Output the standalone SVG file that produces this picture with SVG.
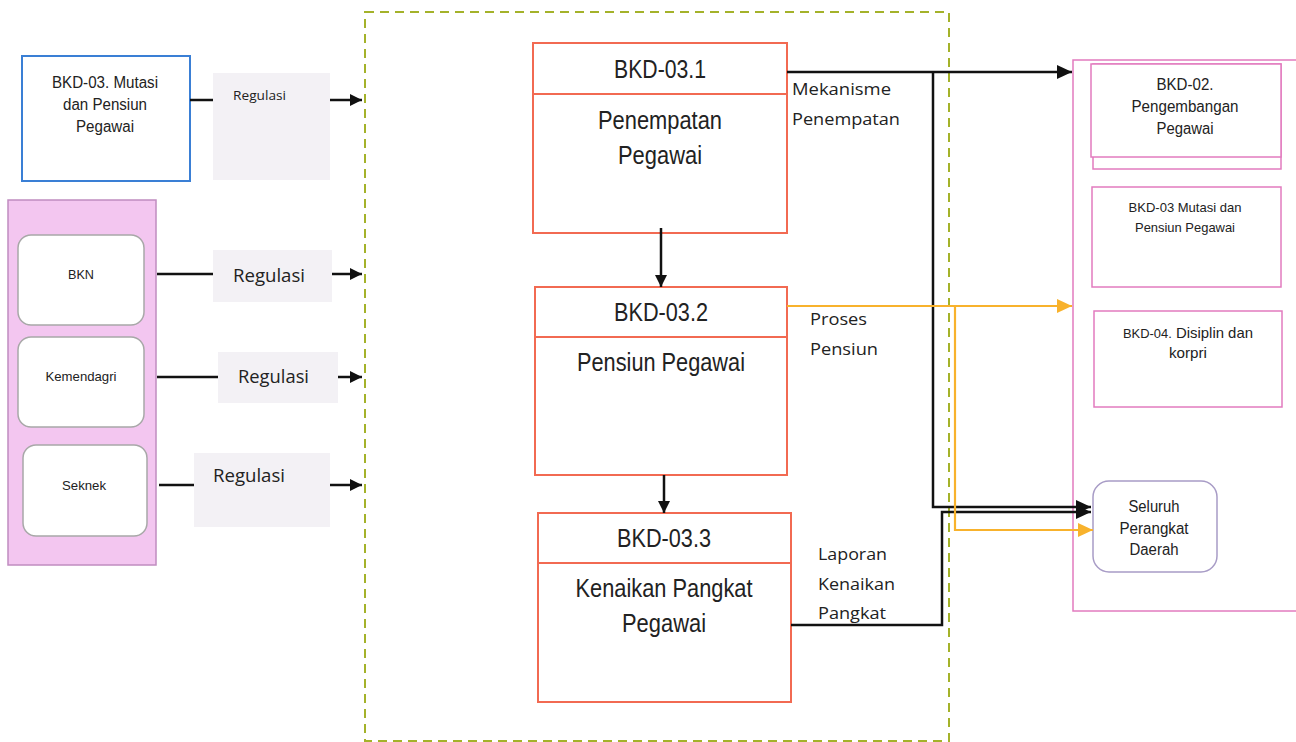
<svg xmlns="http://www.w3.org/2000/svg" width="1296" height="742" viewBox="0 0 1296 742">
<defs>
<style>
.n{font-family:"Liberation Sans",Arial,sans-serif;fill:#222;text-anchor:middle}
.c{font-family:"Open Sans","Liberation Sans",sans-serif;fill:#222}
.proc{fill:#fff;stroke:#f26a52;stroke-width:2}
.reg{fill:#f3f1f5}
.org{fill:#fff;stroke:#a8a8a8;stroke-width:1.5}
.pk{fill:#fff;stroke:#e27bbf;stroke-width:1.5}
.bl{fill:none;stroke:#111;stroke-width:2.5}
.or{fill:none;stroke:#f8b22c;stroke-width:2.2}
</style>
<marker id="ab" markerUnits="userSpaceOnUse" markerWidth="16" markerHeight="16" refX="15" refY="7" orient="auto"><path d="M0,0 L15,7 L0,14 z" fill="#111"/></marker>
<marker id="as" markerUnits="userSpaceOnUse" markerWidth="14" markerHeight="14" refX="12" refY="6" orient="auto"><path d="M0,0 L12,6 L0,12 z" fill="#111"/></marker>
<marker id="ao" markerUnits="userSpaceOnUse" markerWidth="16" markerHeight="16" refX="15" refY="7" orient="auto"><path d="M0,0 L15,7 L0,14 z" fill="#f8b22c"/></marker>
</defs>
<rect width="1296" height="742" fill="#fff"/>

<!-- containers -->
<rect id="main-boundary" x="365" y="12" width="584" height="729" fill="none" stroke="#a4b22a" stroke-width="2" stroke-dasharray="9,6"/>
<rect id="right-boundary" x="1073" y="60" width="240" height="551" fill="none" stroke="#e27bbf" stroke-width="1.5"/>

<!-- left inputs -->
<g id="bkd03-src">
<rect x="22" y="56" width="168" height="125" fill="#fff" stroke="#3a7fd5" stroke-width="2"/>
<text class="n" font-size="16"><tspan x="105" y="88" textLength="106" lengthAdjust="spacingAndGlyphs">BKD-03. Mutasi</tspan><tspan x="105" y="110" textLength="84" lengthAdjust="spacingAndGlyphs">dan Pensiun</tspan><tspan x="105" y="132" textLength="58" lengthAdjust="spacingAndGlyphs">Pegawai</tspan></text>
</g>
<g id="external-orgs">
<rect x="8" y="200" width="148" height="365" fill="#f3c6f0" stroke="#c08cc0" stroke-width="1.5"/>
<g id="bkn"><rect class="org" x="18" y="235" width="126" height="90" rx="13"/><text class="n" font-size="13" x="81" y="279" textLength="26" lengthAdjust="spacingAndGlyphs">BKN</text></g>
<g id="kemendagri"><rect class="org" x="18" y="337" width="126" height="90" rx="13"/><text class="n" font-size="13" x="81" y="381" textLength="71" lengthAdjust="spacingAndGlyphs">Kemendagri</text></g>
<g id="seknek"><rect class="org" x="23" y="445" width="124" height="91" rx="13"/><text class="n" font-size="13" x="84" y="490" textLength="44" lengthAdjust="spacingAndGlyphs">Seknek</text></g>
</g>

<!-- regulasi labels -->
<g id="regulasi-labels">
<rect class="reg" x="213" y="73" width="117" height="107"/>
<text class="c" font-size="12" x="233" y="100" textLength="53" lengthAdjust="spacingAndGlyphs">Regulasi</text>
<rect class="reg" x="213" y="250" width="119" height="52"/>
<text class="c" font-size="18" x="233" y="282" textLength="72" lengthAdjust="spacingAndGlyphs">Regulasi</text>
<rect class="reg" x="218" y="352" width="120" height="51"/>
<text class="c" font-size="18" x="238" y="383" textLength="71" lengthAdjust="spacingAndGlyphs">Regulasi</text>
<rect class="reg" x="194" y="453" width="136" height="74"/>
<text class="c" font-size="18" x="213" y="482" textLength="72" lengthAdjust="spacingAndGlyphs">Regulasi</text>
</g>

<!-- processes -->
<g id="bkd03-1">
<rect class="proc" x="533" y="43" width="254" height="190"/>
<line x1="533" y1="94" x2="787" y2="94" stroke="#f26a52" stroke-width="2"/>
<text class="n" font-size="25" x="660" y="78" textLength="92" lengthAdjust="spacingAndGlyphs">BKD-03.1</text>
<text class="n" font-size="26"><tspan x="660" y="129" textLength="124" lengthAdjust="spacingAndGlyphs">Penempatan</tspan><tspan x="660" y="164" textLength="84" lengthAdjust="spacingAndGlyphs">Pegawai</tspan></text>
</g>
<g id="bkd03-2">
<rect class="proc" x="535" y="287" width="252" height="188"/>
<line x1="535" y1="337" x2="787" y2="337" stroke="#f26a52" stroke-width="2"/>
<text class="n" font-size="25" x="661" y="321" textLength="94" lengthAdjust="spacingAndGlyphs">BKD-03.2</text>
<text class="n" font-size="26" x="661" y="371" textLength="168" lengthAdjust="spacingAndGlyphs">Pensiun Pegawai</text>
</g>
<g id="bkd03-3">
<rect class="proc" x="538" y="513" width="253" height="189"/>
<line x1="538" y1="563" x2="791" y2="563" stroke="#f26a52" stroke-width="2"/>
<text class="n" font-size="25" x="664" y="547" textLength="94" lengthAdjust="spacingAndGlyphs">BKD-03.3</text>
<text class="n" font-size="26"><tspan x="664" y="597" textLength="177" lengthAdjust="spacingAndGlyphs">Kenaikan Pangkat</tspan><tspan x="664" y="632" textLength="84" lengthAdjust="spacingAndGlyphs">Pegawai</tspan></text>
</g>

<!-- outputs -->
<g id="bkd02">
<rect class="pk" x="1093" y="64" width="188" height="105"/>
<rect class="pk" x="1091" y="64" width="190" height="93"/>
<text class="n" font-size="16"><tspan x="1185" y="90" textLength="57" lengthAdjust="spacingAndGlyphs">BKD-02.</tspan><tspan x="1185" y="112" textLength="107" lengthAdjust="spacingAndGlyphs">Pengembangan</tspan><tspan x="1185" y="134" textLength="57" lengthAdjust="spacingAndGlyphs">Pegawai</tspan></text>
</g>
<g id="bkd03-out">
<rect class="pk" x="1092" y="187" width="189" height="100"/>
<text class="n" font-size="13"><tspan x="1185" y="212" textLength="113" lengthAdjust="spacingAndGlyphs">BKD-03 Mutasi dan</tspan><tspan x="1185" y="232" textLength="100" lengthAdjust="spacingAndGlyphs">Pensiun Pegawai</tspan></text>
</g>
<g id="bkd04">
<rect class="pk" x="1094" y="311" width="188" height="96"/>
<text class="n" font-size="15"><tspan x="1188" y="338" textLength="130" lengthAdjust="spacingAndGlyphs"><tspan font-size="13">BKD-04.</tspan> Disiplin dan</tspan><tspan x="1188" y="358" textLength="38" lengthAdjust="spacingAndGlyphs">korpri</tspan></text>
</g>
<g id="seluruh-pd">
<rect x="1093" y="481" width="124" height="91" rx="16" fill="#fff" stroke="#a89cc6" stroke-width="1.5"/>
<text class="n" font-size="16"><tspan x="1154" y="512" textLength="51" lengthAdjust="spacingAndGlyphs">Seluruh</tspan><tspan x="1154" y="534" textLength="69" lengthAdjust="spacingAndGlyphs">Perangkat</tspan><tspan x="1154" y="555" textLength="49" lengthAdjust="spacingAndGlyphs">Daerah</tspan></text>
</g>

<!-- connectors -->
<g id="connectors">
<line class="bl" x1="190" y1="100" x2="213" y2="100"/>
<line class="bl" x1="330" y1="100" x2="362" y2="100" marker-end="url(#as)"/>
<line class="bl" x1="157" y1="274" x2="213" y2="274"/>
<line class="bl" x1="332" y1="274" x2="362" y2="274" marker-end="url(#as)"/>
<line class="bl" x1="157" y1="377" x2="218" y2="377"/>
<line class="bl" x1="338" y1="377" x2="362" y2="377" marker-end="url(#as)"/>
<line class="bl" x1="159" y1="485" x2="194" y2="485"/>
<line class="bl" x1="330" y1="485" x2="362" y2="485" marker-end="url(#as)"/>
<line class="bl" x1="661" y1="228" x2="661" y2="287" marker-end="url(#as)"/>
<line class="bl" x1="664" y1="475" x2="664" y2="513" marker-end="url(#as)"/>
<polyline class="bl" points="787,72 1072,72" marker-end="url(#ab)"/>
<polyline class="bl" points="933,72 933,507 1091,507" marker-end="url(#ab)"/>
<polyline class="bl" points="791,625 942,625 942,512 1091,512" marker-end="url(#ab)"/>
<polyline class="or" points="787,306 1072,306" marker-end="url(#ao)"/>
<polyline class="or" points="955,306 955,530 1093,530" marker-end="url(#ao)"/>
</g>

<!-- flow labels -->
<g id="flow-labels">
<text class="c" font-size="16"><tspan x="792" y="95" textLength="99" lengthAdjust="spacingAndGlyphs">Mekanisme</tspan><tspan x="792" y="125" textLength="108" lengthAdjust="spacingAndGlyphs">Penempatan</tspan></text>
<text class="c" font-size="16"><tspan x="810" y="325" textLength="57" lengthAdjust="spacingAndGlyphs">Proses</tspan><tspan x="810" y="355" textLength="68" lengthAdjust="spacingAndGlyphs">Pensiun</tspan></text>
<text class="c" font-size="16"><tspan x="818" y="560" textLength="69" lengthAdjust="spacingAndGlyphs">Laporan</tspan><tspan x="818" y="590" textLength="77" lengthAdjust="spacingAndGlyphs">Kenaikan</tspan><tspan x="818" y="619" textLength="68" lengthAdjust="spacingAndGlyphs">Pangkat</tspan></text>
</g>
</svg>
